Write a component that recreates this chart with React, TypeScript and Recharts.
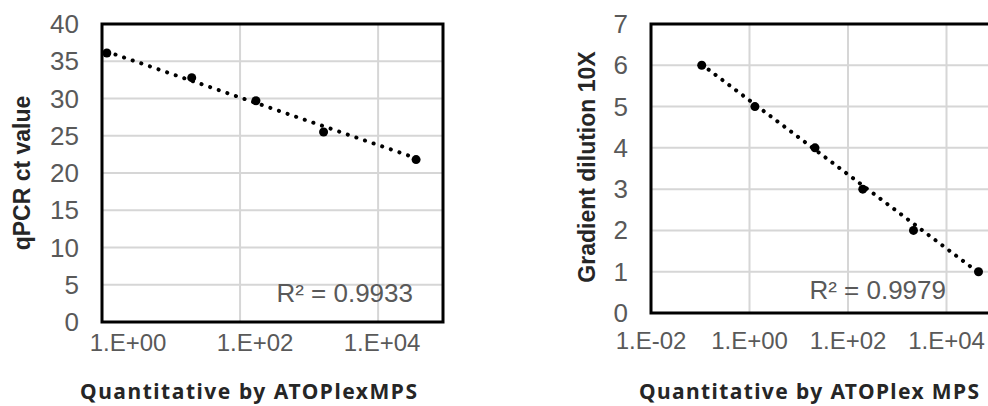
import React from 'react';
import { ScatterChart, Scatter, XAxis, YAxis, CartesianGrid, ReferenceArea } from 'recharts';

// Left chart: log10(quantity) vs qPCR ct value
const leftLogX = [0.07, 1.3, 2.23, 3.21, 4.55];
const leftCt = [36.1, 32.8, 29.7, 25.5, 21.8];
const leftTrendX = [0.07, 4.55];
const leftTrendY = [36.3, 22.0];
const leftYTicks = [0, 5, 10, 15, 20, 25, 30, 35, 40];
const leftXTicks = [0, 2, 4];
const leftXLabels = ['1.E+00', '1.E+02', '1.E+04'];

// Right chart: log10(quantity) vs gradient dilution
const rightLogX = [-0.97, 0.11, 1.33, 2.3, 3.33, 4.65];
const rightDil = [6, 5, 4, 3, 2, 1];
const rightTrendX = [-0.97, 4.65];
const rightTrendY = [6.02, 0.98];
const rightYTicks = [0, 1, 2, 3, 4, 5, 6, 7];
const rightXTicks = [-2, 0, 2, 4];
const rightXLabels = ['1.E-02', '1.E+00', '1.E+02', '1.E+04'];

const leftPts = leftLogX.map((x, i) => ({ x, y: leftCt[i] }));
const leftTrend = leftTrendX.map((x, i) => ({ x, y: leftTrendY[i] }));
const rightPts = rightLogX.map((x, i) => ({ x, y: rightDil[i] }));
const rightTrend = rightTrendX.map((x, i) => ({ x, y: rightTrendY[i] }));

const GRAY = '#595959';
const ARIAL = '"Liberation Sans", Arial, sans-serif';
const TITLE_FONT = '"Noto Sans", Lato, sans-serif';

const noShape = () => <g />;
const dot = (p: any) => <circle cx={p.cx} cy={p.cy} r={4.5} fill="#000" />;

const makeYTick = (gap: number) => (p: any) => (
  <text x={p.x - gap} y={p.y} dy={9} textAnchor="end" fill={GRAY} fontSize={26} fontFamily={ARIAL}>
    {p.payload.value}
  </text>
);

const makeXTick = (labels: string[], dxs: number[], dyv: number) => (p: any) => (
  <text x={p.x + (dxs[p.index] || 0)} y={p.y} dy={dyv} textAnchor="middle" fill={GRAY} fontSize={24} fontFamily={ARIAL}>
    {labels[p.index]}
  </text>
);

export default function App() {
  return (
    <div style={{ position: 'absolute', left: 0, top: 0, width: 988, height: 406, overflow: 'hidden', background: '#fff' }}>
      <div style={{ position: 'absolute', left: 0, top: 0 }}>
        <ScatterChart width={460} height={406} margin={{ top: 24, right: 17, bottom: 54, left: 0 }}>
          <CartesianGrid stroke="#d6d6d6" strokeWidth={2} />
          <XAxis
            type="number"
            dataKey="x"
            domain={[0, 4.94]}
            ticks={leftXTicks}
            height={30}
            axisLine={false}
            tickLine={false}
            tickSize={0}
            tickMargin={0}
            tick={makeXTick(leftXLabels, [26, 15, 4], 29)}
            allowDataOverflow
          />
          <YAxis
            type="number"
            dataKey="y"
            domain={[0, 40]}
            ticks={leftYTicks}
            width={102}
            axisLine={false}
            tickLine={false}
            tickSize={0}
            tickMargin={0}
            tick={makeYTick(23)}
          />
          <ReferenceArea x1={0} x2={4.94} y1={0} y2={40} fill="none" stroke="#000" strokeWidth={3} ifOverflow="visible" />
          <Scatter
            data={leftTrend}
            shape={noShape}
            line={{ stroke: '#000', strokeWidth: 4, strokeDasharray: '0.1 9', strokeLinecap: 'round' }}
            isAnimationActive={false}
          />
          <Scatter data={leftPts} shape={dot} isAnimationActive={false} />
        </ScatterChart>
      </div>
      <div style={{ position: 'absolute', left: 520, top: 0 }}>
        <ScatterChart width={600} height={406} margin={{ top: 24, right: 75, bottom: 63, left: 0 }}>
          <CartesianGrid stroke="#d6d6d6" strokeWidth={2} />
          <XAxis
            type="number"
            dataKey="x"
            domain={[-2, 6]}
            ticks={rightXTicks}
            height={30}
            axisLine={false}
            tickLine={false}
            tickSize={0}
            tickMargin={0}
            tick={makeXTick(rightXLabels, [0, 0, 0, 0], 36)}
          />
          <YAxis
            type="number"
            dataKey="y"
            domain={[0, 7]}
            ticks={rightYTicks}
            width={131}
            axisLine={false}
            tickLine={false}
            tickSize={0}
            tickMargin={0}
            tick={makeYTick(23)}
          />
          <ReferenceArea x1={-2} x2={6} y1={0} y2={7} fill="none" stroke="#000" strokeWidth={3} ifOverflow="visible" />
          <Scatter
            data={rightTrend}
            shape={noShape}
            line={{ stroke: '#000', strokeWidth: 4, strokeDasharray: '0.1 8.5', strokeLinecap: 'round' }}
            isAnimationActive={false}
          />
          <Scatter data={rightPts} shape={dot} isAnimationActive={false} />
        </ScatterChart>
      </div>
      <svg width={988} height={406} style={{ position: 'absolute', left: 0, top: 0, pointerEvents: 'none' }}>
        <text x={413} y={302} textAnchor="end" fill={GRAY} fontSize={26} fontFamily={ARIAL}>R² = 0.9933</text>
        <text x={946} y={299} textAnchor="end" fill={GRAY} fontSize={26} fontFamily={ARIAL}>R² = 0.9979</text>
        <text
          transform="translate(22,173) rotate(-90)"
          textAnchor="middle"
          dominantBaseline="central"
          fill="#262626"
          fontSize={23}
          fontWeight="bold"
          fontFamily={ARIAL}
        >
          qPCR ct value
        </text>
        <text
          transform="translate(587,167) rotate(-90)"
          textAnchor="middle"
          dominantBaseline="central"
          fill="#262626"
          fontSize={23}
          fontWeight="bold"
          fontFamily={ARIAL}
        >
          Gradient dilution 10X
        </text>
        <text x={248.5} y={399} textAnchor="middle" fill="#262626" fontSize={21} fontWeight="bold" fontFamily={TITLE_FONT} textLength={337}>
          Quantitative by ATOPlexMPS
        </text>
        <text x={809} y={399} textAnchor="middle" fill="#262626" fontSize={21} fontWeight="bold" fontFamily={TITLE_FONT} textLength={340}>
          Quantitative by ATOPlex MPS
        </text>
      </svg>
    </div>
  );
}
